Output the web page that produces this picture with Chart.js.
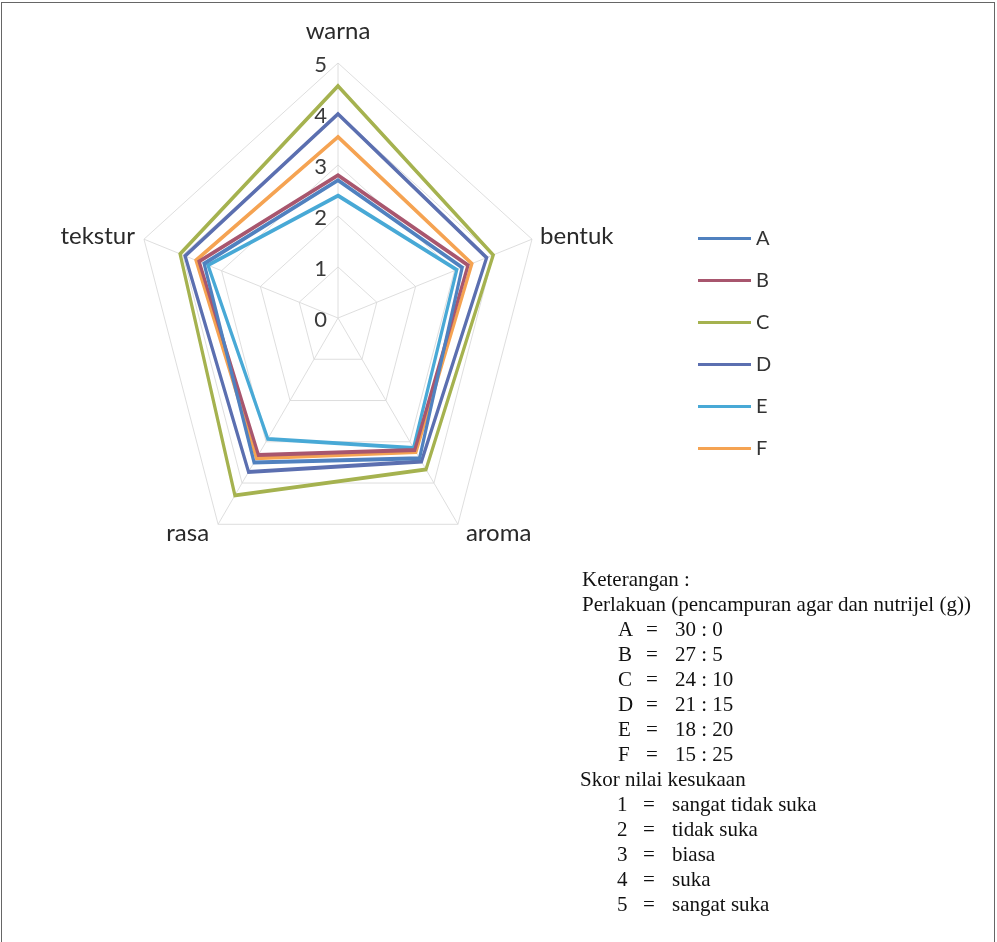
<!DOCTYPE html>
<html>
<head>
<meta charset="utf-8">
<script src="https://cdn.jsdelivr.net/npm/chart.js@4/dist/chart.umd.min.js"></script>
<style>
  html, body { margin: 0; padding: 0; background: #fff; }
  #page { position: relative; width: 997px; height: 942px; overflow: hidden; background: #fff; }
  #frame { position: absolute; left: 1px; top: 2px; width: 994px; height: 960px;
           border: 1px solid #666; box-sizing: border-box; }
  #radar { position: absolute; left: 0; top: 0; }
  .leg { position: absolute; font-family: Lato, "Open Sans", sans-serif; font-size: 20px; color: #333; }
  .leg .ln { position: absolute; left: 0; width: 53px; height: 3px; }
  .leg .tx { position: absolute; left: 58px; top: -13px; line-height: 26px; }
  .note { position: absolute; font-family: "Liberation Serif", "Times New Roman", serif;
          font-size: 21px; color: #111; white-space: pre; line-height: 25px; }
</style>
</head>
<body>
<div id="page">
  <div id="frame"></div>
  <canvas id="radar" width="997" height="942"></canvas>
  <div id="legend"></div>
  <div id="notes"></div>
</div>
<script>
// Sensory attributes (axes of the radar)
const categories = ['warna', 'bentuk', 'aroma', 'rasa', 'tekstur'];

// Mean preference scores per treatment
const seriesA = [2.7, 3.2, 3.4, 3.5, 3.45];
const seriesB = [2.8, 3.35, 3.2, 3.32, 3.58];
const seriesC = [4.55, 4.0, 3.67, 4.3, 4.07];
const seriesD = [4.0, 3.83, 3.48, 3.73, 3.94];
const seriesE = [2.4, 3.06, 3.15, 2.93, 3.35];
const seriesF = [3.55, 3.45, 3.25, 3.4, 3.66];

const seriesNames = ['A', 'B', 'C', 'D', 'E', 'F'];
const seriesColors = ['#5081bf', '#a8566e', '#a5b24f', '#5b6fb0', '#48a9d6', '#f5a352'];

// Radial axis tick labels
const tickLabels = ['0', '1', '2', '3', '4', '5'];

// Legend notes
const treatmentRatios = ['30 : 0', '27 : 5', '24 : 10', '21 : 15', '18 : 20', '15 : 25'];
const scoreValues = ['1', '2', '3', '4', '5'];
const scoreMeanings = ['sangat tidak suka', 'tidak suka', 'biasa', 'suka', 'sangat suka'];

const allSeries = [seriesA, seriesB, seriesC, seriesD, seriesE, seriesF];

// The web is drawn slightly narrower than tall
const SX = 0.8;

const ellipsePlugin = {
  id: 'ellipse',
  beforeDraw(chart) {
    const s = chart.scales.r;
    const ctx = chart.ctx;
    ctx.save();
    ctx.translate(s.xCenter, s.yCenter);
    ctx.scale(SX, 1);
    ctx.translate(-s.xCenter, -s.yCenter);
  },
  afterDatasetsDraw(chart) {
    chart.ctx.restore();
  },
  afterDraw(chart) {
    const s = chart.scales.r;
    const ctx = chart.ctx;
    const mapX = x => s.xCenter + (x - s.xCenter) * SX;
    ctx.save();
    // tick labels along the first spoke
    ctx.font = '22px Lato, "Open Sans", sans-serif';
    ctx.fillStyle = '#3a3a3a';
    ctx.textAlign = 'right';
    ctx.textBaseline = 'middle';
    tickLabels.forEach((t) => {
      const d = s.getDistanceFromCenterForValue(Number(t));
      ctx.fillText(t, s.xCenter - 11, s.yCenter - d + 2);
    });
    // category labels at the outer vertices
    ctx.font = '24px Lato, "Open Sans", sans-serif';
    ctx.fillStyle = '#2a2a2a';
    ctx.textBaseline = 'alphabetic';
    categories.forEach((c, i) => {
      const p = s.getPointPosition(i, s.drawingArea);
      const vx = mapX(p.x), vy = p.y;
      const dx = vx - s.xCenter, dy = vy - s.yCenter;
      if (Math.abs(dx) < 1) {
        ctx.textAlign = 'center';
        ctx.fillText(c, vx, vy - 24.5);
      } else {
        ctx.textAlign = dx > 0 ? 'left' : 'right';
        const x = vx + (dx > 0 ? 8 : -9);
        const y = dy < 0 ? vy + 5 : vy + 17;
        ctx.fillText(c, x, y);
      }
    });
    ctx.restore();
  }
};

new Chart(document.getElementById('radar'), {
  type: 'radar',
  data: {
    labels: categories,
    datasets: allSeries.map((vals, i) => ({
      label: seriesNames[i],
      data: vals,
      borderColor: seriesColors[i],
      backgroundColor: seriesColors[i],
      borderWidth: 4,
      fill: false,
      pointRadius: 0,
      tension: 0
    }))
  },
  options: {
    responsive: false,
    devicePixelRatio: 1,
    animation: false,
    layout: { padding: { left: 83, right: 404, top: 63, bottom: 369 } },
    plugins: { legend: { display: false }, tooltip: { enabled: false } },
    scales: {
      r: {
        min: 0,
        max: 5,
        ticks: { display: false, stepSize: 1 },
        pointLabels: { display: false },
        grid: { color: '#dadada', lineWidth: 1 },
        angleLines: { color: '#dadada', lineWidth: 1 }
      }
    }
  },
  plugins: [ellipsePlugin]
});

// Series legend
const legend = document.getElementById('legend');
const legendTop = [238, 280.5, 322.5, 364, 406, 448];
seriesNames.forEach((n, i) => {
  const d = document.createElement('div');
  d.className = 'leg';
  d.style.left = '698px';
  d.style.top = (legendTop[i] - 1.5) + 'px';
  d.innerHTML = '<div class="ln" style="background:' + seriesColors[i] + '"></div><div class="tx">' + n + '</div>';
  legend.appendChild(d);
});

// Notes block
const notes = document.getElementById('notes');
function note(text, x, baseline) {
  const d = document.createElement('div');
  d.className = 'note';
  d.textContent = text;
  d.style.left = x + 'px';
  d.style.top = (baseline - 19) + 'px';
  notes.appendChild(d);
}
let base = 586;
note('Keterangan :', 582, base); base += 25;
note('Perlakuan (pencampuran agar dan nutrijel (g))', 582, base); base += 25;
seriesNames.forEach((n, i) => {
  note(n, 618, base);
  note('=', 646, base);
  note(treatmentRatios[i], 675, base);
  base += 25;
});
note('Skor nilai kesukaan', 580, base); base += 25;
scoreValues.forEach((v, i) => {
  note(v, 617, base);
  note('=', 643, base);
  note(scoreMeanings[i], 672, base);
  base += 25;
});
</script>
</body>
</html>
